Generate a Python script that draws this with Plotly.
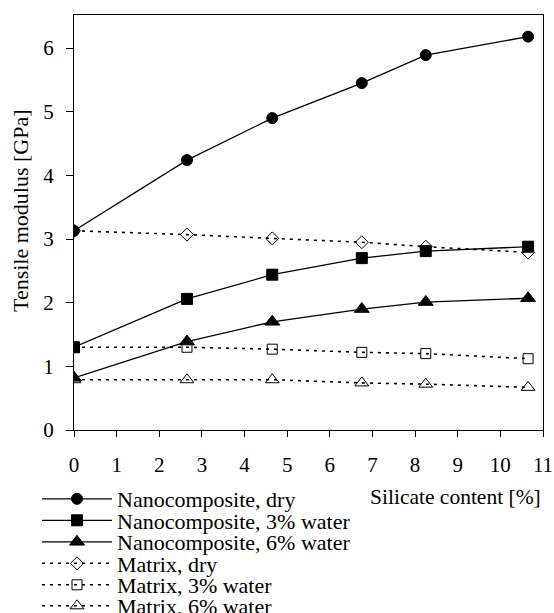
import plotly.graph_objects as go

silicate = [0, 2.65, 4.65, 6.75, 8.25, 10.65]

nano_dry = [3.13, 4.24, 4.90, 5.45, 5.89, 6.18]
nano_3 = [1.30, 2.06, 2.44, 2.70, 2.81, 2.88]
nano_6 = [0.82, 1.39, 1.70, 1.90, 2.01, 2.07]
matrix_dry = [3.13, 3.07, 3.01, 2.95, 2.88, 2.79]
matrix_3 = [1.30, 1.30, 1.27, 1.22, 1.20, 1.12]
matrix_6 = [0.79, 0.79, 0.79, 0.74, 0.72, 0.67]

names = ["Nanocomposite, dry", "Nanocomposite, 3% water", "Nanocomposite, 6% water",
         "Matrix, dry", "Matrix, 3% water", "Matrix, 6% water"]
series = [nano_dry, nano_3, nano_6, matrix_dry, matrix_3, matrix_6]
symbols = ["circle", "square", "triangle-up", "diamond-open", "square-open", "triangle-up-open"]
sizes = [11, 11, 13, 10, 10, 12]
dashes = ["solid", "solid", "solid", "3px,5px", "3px,5px", "3px,5px"]

FONT = "Liberation Serif, Times New Roman, serif"
W, H = 554, 613
ML, MR, MT, MB = 74, 11, 15, 183
PW = W - ML - MR
PH = H - MT - MB

fig = go.Figure()
legend_keys = ["legend", "legend2", "legend3", "legend4", "legend5", "legend6"]
row_y = [499, 520.5, 542, 563.5, 585, 606]

for i in range(6):
    fig.add_trace(go.Scatter(
        x=silicate, y=series[i], name=names[i], mode="lines+markers",
        line=dict(color="black", width=1.3 if i < 3 else 1.6, dash=dashes[i]),
        marker=dict(symbol=symbols[i], size=sizes[i], color="black",
                    line=dict(color="black", width=1)),
        legend=legend_keys[i],
    ))

layout_legends = {}
for i, key in enumerate(legend_keys):
    layout_legends[key] = dict(
        xref="paper", yref="paper",
        x=(37 - ML) / PW, y=(H - MB - row_y[i]) / PH, xanchor="left", yanchor="middle",
        bgcolor="rgba(0,0,0,0)", borderwidth=0,
        font=dict(family=FONT, size=22, color="black"),
        itemwidth=70,
    )

fig.update_layout(
    width=W, height=H,
    margin=dict(l=ML, r=MR, t=MT, b=MB, autoexpand=False),
    plot_bgcolor="white", paper_bgcolor="white",
    font=dict(family=FONT, size=21, color="black"),
    showlegend=True,
    xaxis=dict(range=[0, 11], dtick=1, tick0=0, showgrid=False, zeroline=False,
               showline=True, linecolor="black", linewidth=1, mirror=True,
               ticks="outside", ticklen=6, tickcolor="black", automargin=False,
               ticklabelstandoff=10,
               tickfont=dict(family=FONT, size=21)),
    yaxis=dict(range=[0, 6.52], dtick=1, tick0=0, showgrid=False, zeroline=False,
               showline=True, linecolor="black", linewidth=1, mirror=True,
               ticks="outside", ticklen=7, tickcolor="black", automargin=False,
               ticklabelstandoff=8,
               tickfont=dict(family=FONT, size=21)),
    annotations=[
        dict(text="Silicate content [%]", xref="paper", yref="paper",
             x=1, y=(H - MB - 497) / PH, xanchor="right", yanchor="middle",
             showarrow=False, font=dict(family=FONT, size=21.5, color="black")),
        dict(text="Tensile modulus [GPa]", xref="paper", yref="paper",
             x=(20 - ML) / PW, y=(H - MB - 211) / PH, xanchor="center", yanchor="middle",
             textangle=-90,
             showarrow=False, font=dict(family=FONT, size=22, color="black")),
    ],
    **layout_legends,
)

fig.write_html("out.html", post_script="document.body.style.margin='0';",
               config={"displayModeBar": False})
